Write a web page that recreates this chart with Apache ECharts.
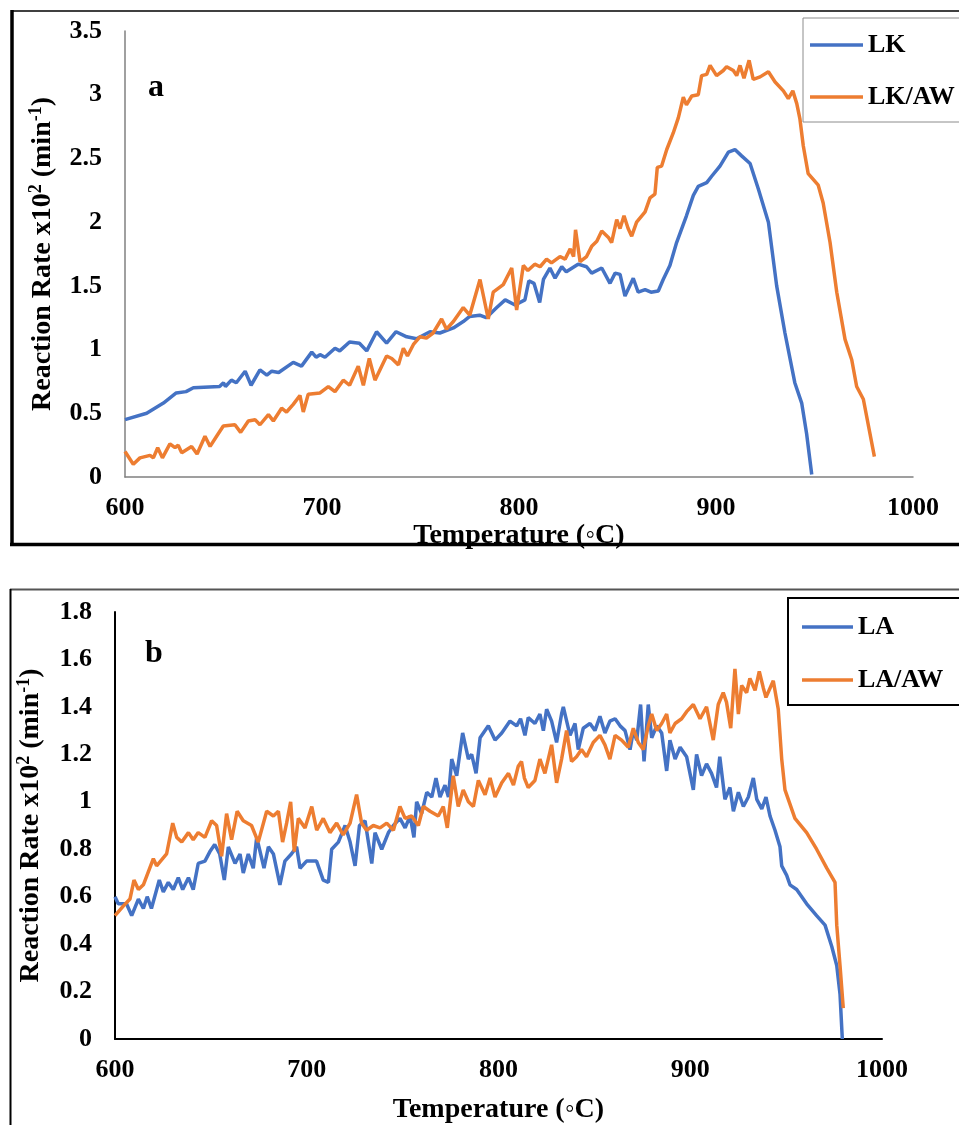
<!DOCTYPE html>
<html>
<head>
<meta charset="utf-8">
<script src="https://cdn.jsdelivr.net/npm/echarts@6/dist/echarts.min.js"></script>
<style>
  html, body { margin: 0; padding: 0; background: #fff; }
  #chart { width: 959px; height: 1125px; }
</style>
</head>
<body>
<div id="chart"></div>
<script>
// values: [temperature, rate x10^2]
const xTicks = [600, 700, 800, 900, 1000]
const seriesNamesA = ['LK', 'LK/AW']
const seriesNamesB = ['LA', 'LA/AW']

const lk = [[600,0.45],[611,0.50],[619.5,0.58],[626,0.66],[631,0.67],[634.7,0.70],[648,0.71],[650,0.74],[651,0.71],[654,0.76],[656.5,0.74],[661,0.83],[664,0.72],[668.5,0.84],[672,0.80],[674.5,0.83],[678,0.82],[685.4,0.90],[689.6,0.87],[694.8,0.98],[697,0.94],[699,0.96],[701.5,0.94],[706.6,1.01],[709,0.99],[714,1.06],[719,1.05],[722.7,0.99],[727.7,1.14],[732.8,1.05],[737.6,1.14],[743,1.10],[748,1.085],[754.8,1.14],[759.8,1.13],[766.7,1.17],[771.7,1.22],[775,1.26],[780,1.27],[783.4,1.25],[788.7,1.33],[793,1.39],[798,1.35],[803,1.39],[805,1.54],[807.6,1.52],[810.5,1.37],[812.4,1.55],[815.7,1.64],[818.3,1.56],[821.7,1.65],[824,1.61],[830,1.67],[834.3,1.65],[836.9,1.60],[842,1.64],[846.2,1.52],[848.8,1.60],[851.3,1.59],[853.8,1.42],[858,1.56],[860.5,1.45],[864,1.47],[867,1.45],[870.7,1.46],[873.2,1.55],[876.6,1.66],[880,1.84],[885,2.05],[888.5,2.21],[891,2.28],[895.3,2.31],[897.8,2.36],[902,2.44],[906.3,2.55],[909.6,2.57],[913,2.52],[917.3,2.46],[921.5,2.26],[926.6,2.00],[930.8,1.50],[935,1.13],[940,0.74],[943.5,0.58],[946,0.34],[948.6,0.02]]

const lkAw = [[600,0.20],[604.2,0.10],[607.6,0.15],[612.7,0.17],[614.4,0.15],[616.6,0.23],[619,0.15],[622.8,0.26],[625.4,0.23],[627,0.25],[628.8,0.19],[633.8,0.24],[636.6,0.18],[640.6,0.32],[643.2,0.24],[646.5,0.32],[649.9,0.40],[655.8,0.41],[658.7,0.35],[662.6,0.44],[666,0.45],[668.5,0.41],[672.8,0.49],[675.3,0.44],[679.5,0.54],[682,0.51],[685.4,0.57],[688.8,0.64],[690.5,0.51],[693,0.65],[699,0.66],[703.2,0.71],[706.6,0.67],[710.8,0.76],[714,0.72],[718.4,0.87],[721,0.72],[724,0.93],[726.9,0.76],[730.3,0.87],[732.8,0.95],[735.4,0.93],[738.8,0.88],[741.3,1.01],[743.4,0.95],[746.4,1.04],[749.7,1.10],[753,1.09],[756.4,1.13],[760.7,1.24],[763.2,1.16],[766.7,1.22],[771.7,1.33],[775,1.27],[780.2,1.55],[784.4,1.24],[786.9,1.45],[792,1.51],[796.3,1.64],[798.8,1.31],[802.2,1.66],[804.5,1.62],[808,1.67],[810.7,1.65],[814,1.71],[816.5,1.68],[820.8,1.73],[823.4,1.71],[826,1.79],[827.7,1.73],[828.7,1.94],[831,1.69],[834.3,1.73],[836.9,1.81],[839.5,1.85],[842,1.93],[845.4,1.88],[847,1.84],[849.6,2.02],[851.3,1.95],[853.3,2.05],[855.4,1.95],[857.2,1.89],[859.7,2.00],[864,2.08],[866.5,2.19],[869,2.22],[870.2,2.43],[872.4,2.44],[875,2.57],[878.3,2.70],[880.9,2.82],[883.4,2.98],[885,2.92],[887.7,2.99],[891,3.00],[892.7,3.15],[895.3,3.16],[897,3.23],[900.3,3.15],[903.7,3.19],[905.4,3.22],[908.8,3.19],[910.5,3.15],[912.2,3.23],[914.2,3.13],[916.8,3.27],[918.9,3.12],[922.4,3.14],[926.6,3.18],[930,3.10],[934.2,3.03],[936.7,2.97],[939,3.03],[941,2.93],[942.6,2.81],[944.3,2.60],[946.8,2.38],[951.9,2.29],[954.4,2.15],[957.9,1.84],[961.3,1.45],[965.5,1.08],[968.9,0.92],[971.4,0.71],[974.8,0.61],[980.4,0.16]]

const la = [[600,0.60],[601.7,0.57],[606,0.57],[608.7,0.52],[612.2,0.59],[614.8,0.55],[616.8,0.60],[619,0.55],[623.1,0.67],[625.2,0.62],[627.8,0.66],[630.4,0.63],[633,0.68],[635.3,0.63],[638.3,0.68],[640.8,0.63],[643.4,0.74],[646.9,0.75],[649.5,0.79],[652,0.82],[654.6,0.78],[657,0.67],[659.1,0.81],[662.6,0.74],[665.2,0.78],[666.9,0.70],[669.5,0.78],[672.1,0.72],[673.9,0.85],[677.7,0.72],[680,0.81],[682.6,0.78],[686,0.65],[688.6,0.75],[692,0.78],[694.7,0.81],[696.5,0.72],[699.9,0.75],[705.1,0.75],[708.6,0.67],[711.3,0.66],[713,0.80],[716.5,0.83],[720,0.90],[722.6,0.83],[725.2,0.73],[727.5,0.90],[730.4,0.92],[733.9,0.74],[735.6,0.87],[739.1,0.80],[742.6,0.87],[745.2,0.90],[748.6,0.93],[751.3,0.89],[753.9,0.94],[755.9,0.85],[757.3,1.00],[759.9,0.95],[762.6,1.04],[765.2,1.02],[767.4,1.10],[769.5,1.02],[772.1,1.07],[773.9,1.02],[775.6,1.18],[778.2,1.11],[781.3,1.29],[784.3,1.18],[786,1.20],[788.3,1.12],[790.4,1.27],[794.7,1.32],[798.2,1.26],[801.7,1.29],[806,1.34],[809.5,1.32],[811.5,1.35],[813.8,1.28],[815.5,1.355],[819,1.33],[821.6,1.37],[823.4,1.30],[825.1,1.39],[827.7,1.34],[830.3,1.25],[832.9,1.37],[833.8,1.40],[837.3,1.28],[839.9,1.33],[841.6,1.22],[844.2,1.31],[847.7,1.33],[850.3,1.30],[852.9,1.36],[855.5,1.29],[858.1,1.34],[860.8,1.35],[863.4,1.32],[866,1.30],[868.6,1.22],[870.3,1.30],[872.1,1.26],[874.1,1.41],[875.9,1.17],[878.1,1.41],[879.9,1.27],[882.5,1.32],[885.1,1.29],[887.7,1.13],[889.4,1.26],[892.1,1.18],[894.7,1.23],[898.1,1.19],[901.6,1.05],[903.3,1.20],[905.9,1.11],[908.5,1.16],[911.1,1.12],[913.7,1.06],[915.4,1.19],[918.1,1.01],[920.7,1.06],[922.5,0.96],[925.1,1.04],[927.7,0.98],[930.3,1.02],[932.9,1.10],[934.7,1.01],[937.3,0.97],[939.5,1.02],[941.6,0.94],[944.2,0.88],[946.8,0.81],[947.7,0.73],[950.3,0.69],[952,0.65],[955.5,0.63],[960.7,0.57],[965.9,0.52],[970.3,0.48],[973.8,0.39],[976.4,0.31],[978.1,0.19],[979.3,0.0]]

const laAw = [[600,0.52],[604.3,0.56],[607.8,0.59],[609.9,0.67],[612.2,0.63],[614.8,0.65],[620,0.76],[621.7,0.73],[626.9,0.78],[630.1,0.91],[632.2,0.85],[634.8,0.83],[638.3,0.87],[640.8,0.84],[643.4,0.87],[646.9,0.85],[650.4,0.92],[653,0.90],[655.6,0.77],[658.2,0.95],[660.8,0.84],[663.7,0.96],[666.9,0.92],[671.2,0.90],[674.7,0.83],[679.1,0.96],[682.6,0.94],[685.2,0.96],[687.4,0.83],[689.5,0.91],[691.6,1.00],[693.5,0.79],[695.6,0.93],[699.1,0.89],[702.6,0.98],[705.2,0.88],[708.6,0.93],[712.1,0.87],[715.6,0.91],[719,0.86],[722.6,0.91],[726,1.03],[728.6,0.91],[731.2,0.88],[734.7,0.90],[738.2,0.89],[741.7,0.91],[745.2,0.88],[748.6,0.98],[751.3,0.93],[754.7,0.94],[758.2,0.90],[760.8,0.98],[764.3,0.96],[768.6,0.94],[771.2,0.98],[773.3,0.89],[776.4,1.11],[779,0.98],[781.6,1.05],[784.3,1.00],[786.9,0.98],[789.5,1.09],[793,1.03],[795.6,1.10],[798.2,1.02],[801.7,1.08],[805.2,1.12],[807.8,1.07],[810.3,1.15],[812,1.17],[813.5,1.10],[815.5,1.06],[819,1.09],[821.6,1.18],[824.2,1.12],[827.7,1.24],[830.3,1.08],[832.9,1.18],[835.5,1.30],[838.1,1.17],[840.7,1.19],[843.3,1.22],[845.9,1.19],[849.4,1.25],[852.9,1.28],[855.5,1.24],[858.1,1.18],[860.8,1.28],[864.2,1.26],[867.7,1.23],[870.3,1.31],[872.9,1.25],[875.5,1.22],[878.1,1.32],[879.9,1.37],[882.5,1.30],[885.1,1.33],[887.7,1.37],[889.4,1.29],[892.1,1.33],[895.5,1.35],[898.1,1.38],[901.6,1.41],[905.1,1.35],[908.5,1.40],[912,1.26],[914.6,1.41],[917.2,1.46],[918.9,1.42],[921.1,1.31],[923.3,1.56],[925.1,1.37],[926.8,1.49],[929.4,1.46],[931.1,1.52],[933.8,1.47],[936,1.55],[938.1,1.48],[939.5,1.44],[943.3,1.51],[945.9,1.39],[947.7,1.18],[949.4,1.05],[954.6,0.93],[960.7,0.87],[965.9,0.80],[971.2,0.72],[975.5,0.66],[976.4,0.48],[978.1,0.31],[979.8,0.13]]

const FONT = '"Liberation Serif", "Times New Roman", serif'
const BLUE = '#4472c4'
const ORANGE = '#ed7d31'

const chart = echarts.init(document.getElementById('chart'), null, { renderer: 'canvas' })

function labelStyle(margin) {
  return {
    color: '#000',
    fontFamily: FONT,
    fontWeight: 'bold',
    fontSize: 26,
    margin,
    formatter: (v) => String(v)
  }
}

const yName = '{n|Reaction Rate x10}{s|2}{n| (min}{s|-1}{n|)}'
const nameStyle = {
  color: '#000',
  fontFamily: FONT,
  fontWeight: 'bold',
  fontSize: 28,
  rich: {
    n: { fontFamily: FONT, fontWeight: 'bold', fontSize: 28, lineHeight: 32, color: '#000' },
    s: { fontFamily: FONT, fontWeight: 'bold', fontSize: 18, lineHeight: 18, verticalAlign: 'top', color: '#000' }
  }
}

function xAxis(gridIndex, lineColor, lineWidth, gap) {
  return {
    type: 'value',
    gridIndex,
    min: xTicks[0],
    max: xTicks[xTicks.length - 1],
    interval: 100,
    axisLine: { show: true, lineStyle: { color: lineColor, width: lineWidth } },
    axisTick: { show: false },
    splitLine: { show: false },
    axisLabel: labelStyle(18),
    name: 'Temperature (◦C)',
    nameLocation: 'middle',
    nameGap: gap,
    nameTextStyle: { color: '#000', fontFamily: FONT, fontWeight: 'bold', fontSize: 28 }
  }
}

function yAxis(gridIndex, max, interval, lineColor, lineWidth, gap) {
  return {
    type: 'value',
    gridIndex,
    min: 0,
    max,
    interval,
    axisLine: { show: true, lineStyle: { color: lineColor, width: lineWidth } },
    axisTick: { show: false },
    splitLine: { show: false },
    axisLabel: labelStyle(23),
    name: yName,
    nameLocation: 'middle',
    nameRotate: 90,
    nameGap: gap,
    nameTextStyle: nameStyle
  }
}

function lineSeries(name, data, color, idx) {
  return {
    name,
    type: 'line',
    xAxisIndex: idx,
    yAxisIndex: idx,
    data,
    symbol: 'none',
    showSymbol: false,
    lineStyle: { color, width: 3.5 },
    itemStyle: { color }
  }
}

function legend(names, left, top, padding, border, borderWidth, itemWidth, itemGap) {
  return {
    data: names.map((n) => ({ name: n, icon: 'rect' })),
    orient: 'vertical',
    left,
    top,
    padding,
    itemWidth,
    itemHeight: 3.5,
    itemGap,
    borderColor: border,
    borderWidth,
    backgroundColor: '#fff',
    selectedMode: false,
    textStyle: { color: '#000', fontFamily: FONT, fontWeight: 'bold', fontSize: 26 }
  }
}

chart.setOption({
  animation: false,
  backgroundColor: '#fff',
  grid: [
    { left: 125, top: 31, width: 788, height: 446 },
    { left: 115, top: 612, width: 767, height: 427 }
  ],
  xAxis: [
    xAxis(0, '#808080', 1.5, 38),
    xAxis(1, '#000', 2, 57)
  ],
  yAxis: [
    yAxis(0, 3.5, 0.5, '#808080', 1.5, 66),
    yAxis(1, 1.8, 0.2, '#000', 2, 68)
  ],
  legend: [
    legend(seriesNamesA, 803, 18, [14, 40, 12, 7], '#8c8c8c', 1, 53, 26),
    legend(seriesNamesB, 788, 598, [16, 40, 12, 14], '#000', 2, 51, 27)
  ],
  graphic: [
    { type: 'line', shape: { x1: 11, y1: 11, x2: 959, y2: 11 }, style: { stroke: '#404040', lineWidth: 2 } },
    { type: 'line', shape: { x1: 12, y1: 10, x2: 12, y2: 546 }, style: { stroke: '#000', lineWidth: 3.5 } },
    { type: 'line', shape: { x1: 10, y1: 544.5, x2: 959, y2: 544.5 }, style: { stroke: '#000', lineWidth: 3.5 } },
    { type: 'line', shape: { x1: 10, y1: 589.5, x2: 959, y2: 589.5 }, style: { stroke: '#555', lineWidth: 2 } },
    { type: 'line', shape: { x1: 10.5, y1: 589, x2: 10.5, y2: 1125 }, style: { stroke: '#000', lineWidth: 2 } },
    { type: 'text', x: 156, y: 88, style: { text: 'a', font: 'bold 32px ' + FONT, fill: '#000', textAlign: 'center', textVerticalAlign: 'middle' } },
    { type: 'text', x: 154, y: 654, style: { text: 'b', font: 'bold 32px ' + FONT, fill: '#000', textAlign: 'center', textVerticalAlign: 'middle' } }
  ],
  series: [
    lineSeries('LK', lk, BLUE, 0),
    lineSeries('LK/AW', lkAw, ORANGE, 0),
    lineSeries('LA', la, BLUE, 1),
    lineSeries('LA/AW', laAw, ORANGE, 1)
  ]
})
</script>
</body>
</html>
